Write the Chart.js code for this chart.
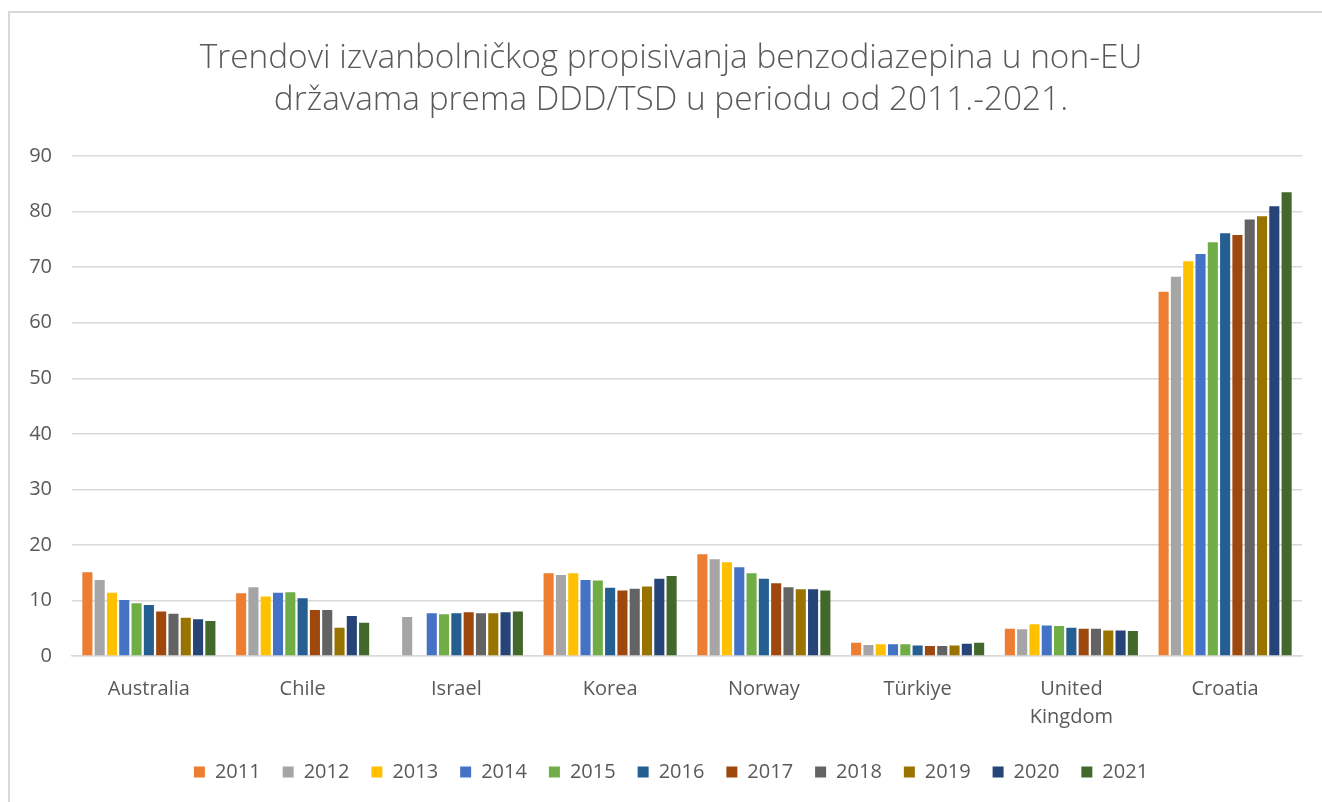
<!DOCTYPE html>
<html>
<head>
<meta charset="utf-8">
<script src="https://cdn.jsdelivr.net/npm/chart.js@4/dist/chart.umd.min.js"></script>
<style>
  html, body { margin: 0; padding: 0; background: #fff; overflow: hidden; }
  #wrap { width: 1322px; height: 802px; overflow: hidden; }
</style>
</head>
<body>
<div id="wrap"><canvas id="chart" width="1350" height="802"></canvas></div>
<script>
const countries = ['Australia', 'Chile', 'Israel', 'Korea', 'Norway', 'Türkiye', ['United', 'Kingdom'], 'Croatia'];
const years = ['2011', '2012', '2013', '2014', '2015', '2016', '2017', '2018', '2019', '2020', '2021'];
const yTicks = [0, 10, 20, 30, 40, 50, 60, 70, 80, 90];

// one array per country, values for 2011..2021
const australia = [15.1, 13.7, 11.4, 10.1, 9.5, 9.2, 8.0, 7.6, 6.9, 6.6, 6.3];
const chile     = [11.3, 12.4, 10.7, 11.4, 11.5, 10.4, 8.3, 8.3, 5.1, 7.2, 6.0];
const israel    = [null, 7.0, null, 7.7, 7.5, 7.7, 7.9, 7.7, 7.7, 7.9, 8.0];
const korea     = [14.9, 14.6, 14.9, 13.7, 13.6, 12.3, 11.8, 12.1, 12.5, 13.9, 14.4];
const norway    = [18.3, 17.4, 16.9, 16.0, 14.9, 13.9, 13.1, 12.4, 12.0, 12.0, 11.8];
const turkiye   = [2.4, 2.0, 2.1, 2.1, 2.1, 1.9, 1.8, 1.8, 1.9, 2.2, 2.4];
const uk        = [4.9, 4.8, 5.7, 5.5, 5.4, 5.1, 4.9, 4.9, 4.6, 4.6, 4.5];
const croatia   = [65.6, 68.3, 71.1, 72.4, 74.5, 76.1, 75.8, 78.6, 79.2, 81.0, 83.5];

const yearColors = ['#ED7D31', '#A5A5A5', '#FFC000', '#4472C4', '#70AD47', '#255E91',
                    '#9E480E', '#636363', '#997300', '#264478', '#43682B'];

const byCountry = [australia, chile, israel, korea, norway, turkiye, uk, croatia];

const FONT = '"Open Sans", Lato, sans-serif';
const TEXT = '#595959';

const datasets = years.map((year, i) => ({
    label: year,
    data: byCountry.map(row => row[i]),
    backgroundColor: yearColors[i],
    borderWidth: 0,
    barPercentage: 0.82,
    categoryPercentage: 0.88
}));

// white page + light frame like the exported chart
const framePlugin = {
    id: 'frame',
    beforeDraw(chart) {
        const ctx = chart.ctx;
        ctx.save();
        ctx.fillStyle = '#fff';
        ctx.fillRect(0, 0, chart.width, chart.height);
        ctx.strokeStyle = '#d9d9d9';
        ctx.lineWidth = 2;
        ctx.strokeRect(9, 12, chart.width + 20, chart.height + 20);
        ctx.restore();
    }
};

// canvas is a bit wider than the page: the original frame runs past the right edge
new Chart(document.getElementById('chart'), {
    type: 'bar',
    data: { labels: countries, datasets: datasets },
    plugins: [framePlugin],
    options: {
        responsive: false,
        animation: false,
        layout: { padding: { left: 26, right: 34, top: 16, bottom: 10 } },
        plugins: {
            title: {
                display: true,
                text: ['Trendovi izvanbolničkog propisivanja benzodiazepina u non-EU',
                       'državama prema DDD/TSD u periodu od 2011.-2021.'],
                color: TEXT,
                font: { family: FONT, size: 33.4, weight: 300, lineHeight: 1.26 },
                padding: { top: 21, bottom: 35 }
            },
            legend: {
                position: 'bottom',
                labels: {
                    color: TEXT,
                    font: { family: FONT, size: 20 },
                    boxWidth: 11,
                    boxHeight: 11,
                    padding: 22
                }
            },
            tooltip: { enabled: false }
        },
        scales: {
            x: {
                grid: { display: false },
                border: { color: '#d9d9d9', width: 1.5 },
                afterFit(scale) { scale.height = 84; },
                ticks: {
                    color: TEXT,
                    font: { family: FONT, size: 20, lineHeight: 1.4 },
                    padding: 11,
                    maxRotation: 0
                }
            },
            y: {
                min: 0,
                max: 90,
                afterBuildTicks(scale) {
                    scale.ticks = yTicks.map(v => ({ value: v }));
                },
                afterFit(scale) { scale.width = 46; },
                grid: { color: '#d9d9d9', lineWidth: 1.5, drawTicks: false },
                border: { display: false },
                ticks: {
                    color: TEXT,
                    font: { family: FONT, size: 20 },
                    padding: 20
                }
            },
            // empty spacer on the right so the plot ends where the original does
            spacer: {
                type: 'linear',
                position: 'right',
                afterFit(scale) { scale.width = 14; },
                grid: { display: false },
                border: { display: false },
                ticks: { display: false }
            }
        }
    }
});
</script>
</body>
</html>
